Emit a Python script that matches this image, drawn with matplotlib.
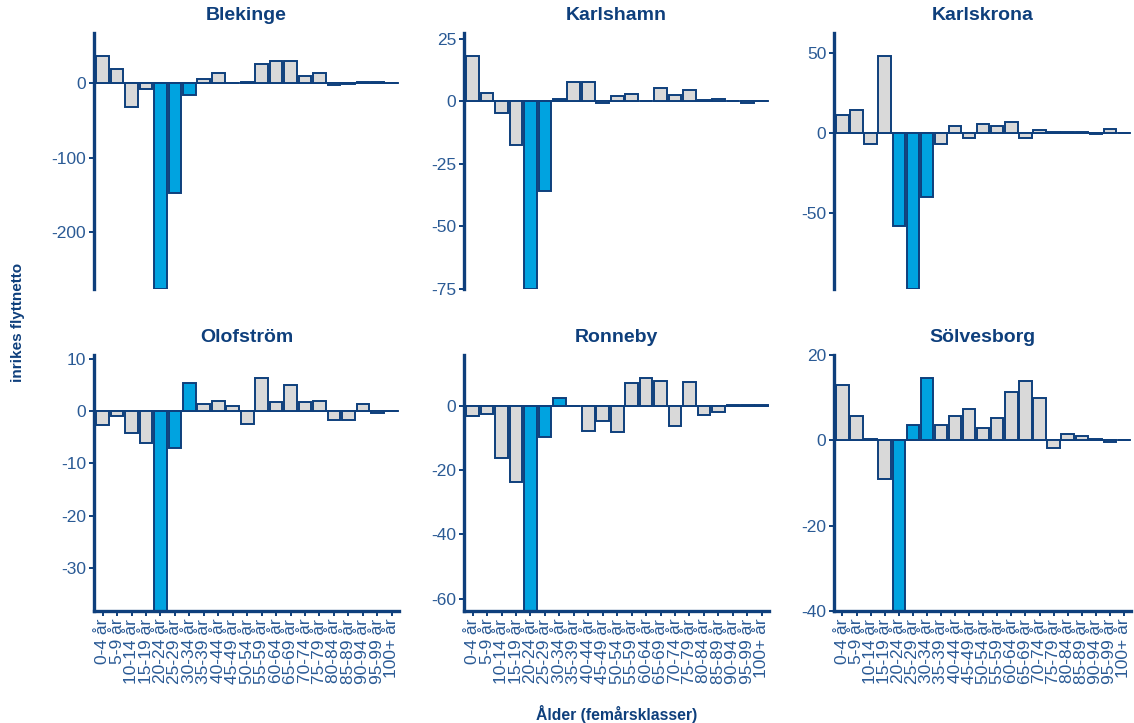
import matplotlib
matplotlib.use("Agg")
import matplotlib.pyplot as plt
import numpy as np

plt.rcParams['font.family'] = ['Liberation Sans', 'DejaVu Sans']

ages = ['0-4 år', '5-9 år', '10-14 år', '15-19 år', '20-24 år', '25-29 år', '30-34 år',
        '35-39 år', '40-44 år', '45-49 år', '50-54 år', '55-59 år', '60-64 år', '65-69 år',
        '70-74 år', '75-79 år', '80-84 år', '85-89 år', '90-94 år', '95-99 år', '100+ år']

# age groups highlighted in blue
highlight = ['20-24 år', '25-29 år', '30-34 år']

blekinge = [36, 19, -32, -8, -275.7, -147, -16.5, 6, 13, 0.5, 1, 26, 29, 29, 9, 13,
            -2, -1, 2, 1, 0.5]
karlshamn = [18, 3.2, -4.8, -17.3, -75, -36, 1, 7.6, 7.6, -0.5, 2.3, 2.8, 0, 5.2,
             2.7, 4.5, 0.5, 0.8, 0, -0.5, 0]
karlskrona = [10.8, 14, -7.3, 47.7, -58.5, -97.7, -40, -6.9, 4.4, -3.3, 5.4, 4.4, 6.9,
              -3.5, 1.5, 0.2, 0.3, 0.3, -1, 2, 0]
olofstrom = [-2.7, -1.0, -4.1, -6.1, -38.3, -7.1, 5.3, 1.3, 2.0, 1.0, -2.4, 6.3, 1.7,
             5.1, 1.7, 2.0, -1.7, -1.7, 1.3, -0.4, 0]
ronneby = [-3.0, -2.5, -16.2, -23.5, -63.9, -9.4, 2.6, 0, -7.7, -4.5, -8.0, 7.2, 8.8,
           8.0, -6.1, 7.5, -2.7, -1.7, 0.4, 0.3, 0.3]
solvesborg = [12.9, 5.6, 0.4, -9.1, -40, 3.5, 14.5, 3.5, 5.6, 7.3, 2.9, 5.3, 11.3,
              14.0, 9.9, -1.8, 1.6, 0.9, 0.3, -0.5, 0]

panels = [('Blekinge', blekinge, [0, -100, -200]),
          ('Karlshamn', karlshamn, [25, 0, -25, -50, -75]),
          ('Karlskrona', karlskrona, [50, 0, -50]),
          ('Olofström', olofstrom, [10, 0, -10, -20, -30]),
          ('Ronneby', ronneby, [0, -20, -40, -60]),
          ('Sölvesborg', solvesborg, [20, 0, -20, -40])]

navy = '#0e3f7c'
ticktxt = '#2a5a95'
blue = '#00a3e0'
grey = '#d9d9d9'

W, H = 1134, 723
fig = plt.figure(figsize=(W / 100, H / 100), dpi=100)

lefts = [94, 464, 834]
widths = [305, 305, 297]
tops = [33, 355]
ph = 256

x = np.arange(len(ages))
colors = [blue if a in highlight else grey for a in ages]

for i, (name, vals, ticks) in enumerate(panels):
    row, col = divmod(i, 3)
    ax = fig.add_axes([lefts[col] / W, (H - tops[row] - ph) / H, widths[col] / W, ph / H])
    ax.axhline(0, color=navy, lw=1.3, zorder=1)
    ax.bar(x, vals, width=0.88, color=colors, edgecolor=navy, linewidth=1.4, zorder=2)
    lo, hi = min(vals), max(vals)
    ax.set_ylim(lo, hi + 0.1 * (hi - lo))
    ax.set_xlim(-0.6, 20.5)
    ax.set_yticks(ticks)
    ax.set_yticklabels([str(t) for t in ticks])
    ax.set_title(name, fontsize=14, fontweight='bold', color=navy, pad=9)
    for s in ['top', 'right']:
        ax.spines[s].set_visible(False)
    ax.spines['left'].set_color(navy)
    ax.spines['left'].set_linewidth(2.4)
    ax.tick_params(axis='y', colors=navy, labelcolor=ticktxt, labelsize=12.5,
                   length=3.5, width=1.4, pad=2)
    if row == 0:
        ax.spines['bottom'].set_visible(False)
        ax.set_xticks([])
    else:
        ax.spines['bottom'].set_color(navy)
        ax.spines['bottom'].set_linewidth(2.4)
        ax.set_xticks(x)
        ax.set_xticklabels(ages, rotation=90)
        ax.tick_params(axis='x', colors=navy, labelcolor=ticktxt, labelsize=12.5,
                       length=3.5, width=1.4, pad=2)

fig.text(18 / W, 1 - 322 / H, 'inrikes flyttnetto', rotation=90, ha='center', va='center',
         fontsize=11, fontweight='bold', color=navy)
fig.text(617 / W, 1 - 714 / H, 'Ålder (femårsklasser)', ha='center', va='center',
         fontsize=11.3, fontweight='bold', color=navy)

fig.savefig('out.png', dpi=100)
